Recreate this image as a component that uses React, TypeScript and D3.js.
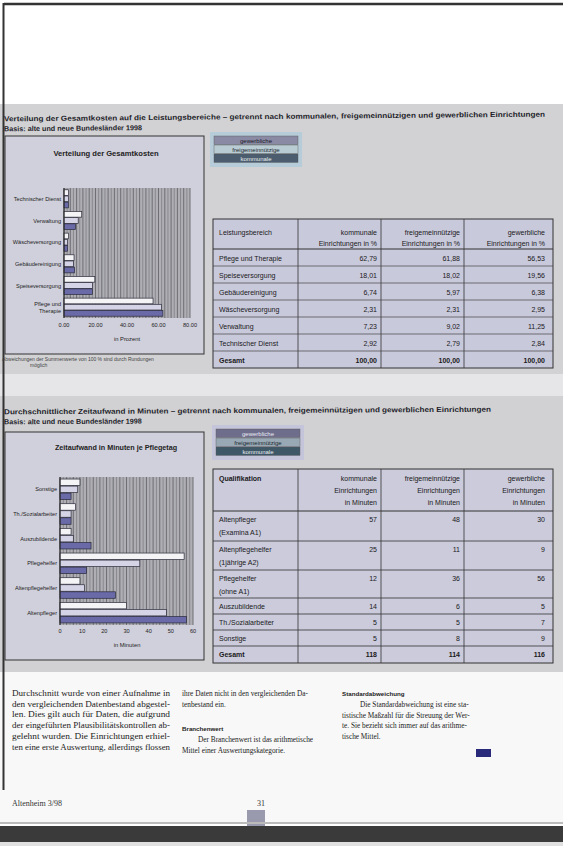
import React from "react";
import * as d3 from "d3";

// ---------- data ----------
const series = ["gewerbliche", "freigemeinnützige", "kommunale"];

const bereiche = ["Pflege und Therapie", "Speiseversorgung", "Gebäudereinigung", "Wäscheversorgung", "Verwaltung", "Technischer Dienst"];
const bereicheChart = ["Technischer Dienst", "Verwaltung", "Wäscheversorgung", "Gebäudereinigung", "Speiseversorgung", "Pflege und\nTherapie"];
const kommunal1 = [62.79, 18.01, 6.74, 2.31, 7.23, 2.92];
const freigem1 = [61.88, 18.02, 5.97, 2.31, 9.02, 2.79];
const gewerb1 = [56.53, 19.56, 6.38, 2.95, 11.25, 2.84];
const ticks1 = [0, 20, 40, 60, 80];

const quali = ["Altenpfleger\n(Examina A1)", "Altenpflegehelfer\n(1jährige A2)", "Pflegehelfer\n(ohne A1)", "Auszubildende", "Th./Sozialarbeiter", "Sonstige"];
const qualiChart = ["Sonstige", "Th./Sozialarbeiter", "Auszubildende", "Pflegehelfer", "Altenpflegehelfer", "Altenpfleger"];
const kommunal2 = [57, 25, 12, 14, 5, 5];
const freigem2 = [48, 11, 36, 6, 5, 8];
const gewerb2 = [30, 9, 56, 5, 7, 9];
const ticks2 = [0, 10, 20, 30, 40, 50, 60];

const title1 = "Verteilung der Gesamtkosten auf die Leistungsbereiche – getrennt nach kommunalen, freigemeinnützigen und gewerblichen Einrichtungen";
const title2 = "Durchschnittlicher Zeitaufwand in Minuten – getrennt nach kommunalen, freigemeinnützigen und gewerblichen Einrichtungen";
const basis = "Basis: alte und neue Bundesländer 1998";

const col1Text = [
  "Durchschnitt wurde von einer Aufnahme in",
  "den vergleichenden Datenbestand abgestel-",
  "len. Dies gilt auch für Daten, die aufgrund",
  "der eingeführten Plausibilitätskontrollen ab-",
  "gelehnt wurden. Die Einrichtungen erhiel-",
  "ten eine erste Auswertung, allerdings flossen",
];
const col2Text = ["ihre Daten nicht in den vergleichenden Da-", "tenbestand ein."];
const col2Body = ["Der Branchenwert ist das arithmetische", "Mittel einer Auswertungskategorie."];
const col3Body = [
  "Die Standardabweichung ist eine sta-",
  "tistische Maßzahl für die Streuung der Wer-",
  "te. Sie bezieht sich immer auf das arithme-",
  "tische Mittel.",
];

// ---------- style ----------
const SANS = "'Liberation Sans', Arial, sans-serif";
const SERIF = "'Liberation Serif', 'DejaVu Serif', serif";
const barFill: Record<string, string> = { gewerbliche: "#f4f4f6", freigemeinnützige: "#d4d4e6", kommunale: "#6a6aa8" };

const de = d3.formatLocale({ decimal: ",", thousands: ".", grouping: [3], currency: ["", " €"] });
const pct = de.format(".2f");
const intf = de.format("d");

type ChartProps = {
  cats: string[];
  values: Record<string, number[]>;
  xDomain: [number, number];
  xRange: [number, number];
  yRange: [number, number];
  ticks: number[];
  fmt: (n: number) => string;
  gridStep: number;
  labelX: number;
  tickY: number;
};

function BarChart(p: ChartProps) {
  const x = d3.scaleLinear().domain(p.xDomain).range(p.xRange);
  const y = d3.scaleBand().domain(p.cats).range(p.yRange).paddingInner(0.12).paddingOuter(0.06);
  const ys = d3.scaleBand().domain(series).range([0, y.bandwidth()]).padding(0.08);
  const grid = d3.range(p.xDomain[0], p.xDomain[1] + 0.001, p.gridStep);
  return (
    <g>
      <rect x={p.xRange[0]} y={p.yRange[0]} width={p.xRange[1] - p.xRange[0]} height={p.yRange[1] - p.yRange[0]} fill="#aeaeb4" />
      {grid.map((g, i) => (
        <line key={i} x1={x(g)} x2={x(g)} y1={p.yRange[0]} y2={p.yRange[1]} stroke={i % 2 ? "#84848a" : "#66666c"} strokeWidth={0.9} />
      ))}
      {p.cats.map((c, i) => (
        <g key={c}>
          {series.map((s) => (
            <rect
              key={s}
              x={x(0)}
              y={(y(c) as number) + (ys(s) as number)}
              width={x(p.values[s][i]) - x(0)}
              height={ys.bandwidth()}
              fill={barFill[s]}
              stroke="#2a2a3a"
              strokeWidth={0.7}
            />
          ))}
          {c.split("\n").map((ln, k, arr) => (
            <text
              key={k}
              x={p.labelX}
              y={(y(c) as number) + y.bandwidth() / 2 + 2 + (k - (arr.length - 1) / 2) * 7}
              textAnchor="end"
              fontSize={5.6}
              fontFamily={SANS}
              fill="#222"
            >
              {ln}
            </text>
          ))}
        </g>
      ))}
      <line x1={x(0)} x2={x(0)} y1={p.yRange[0]} y2={p.yRange[1]} stroke="#222" strokeWidth={1} />
      {p.ticks.map((t) => (
        <text key={t} x={x(t)} y={p.tickY} textAnchor="middle" fontSize={5.6} fontFamily={SANS} fill="#222">
          {p.fmt(t)}
        </text>
      ))}
    </g>
  );
}

function Legend({ x, y, fills, textFills, bg }: { x: number; y: number; fills: string[]; textFills: string[]; bg: string }) {
  return (
    <g>
      <rect x={x - 4} y={y - 4} width={92} height={35} fill={bg} />
      {series.map((s, i) => (
        <g key={s}>
          <rect x={x} y={y + i * 9} width={84} height={8.4} fill={fills[i]} stroke="#555" strokeWidth={0.4} />
          <text x={x + 42} y={y + i * 9 + 6.6} textAnchor="middle" fontSize={6} fontFamily={SANS} fill={textFills[i]}>
            {s}
          </text>
        </g>
      ))}
    </g>
  );
}

const colRight = [377, 460, 545];
const divX = [298, 381, 464];

function Table1() {
  const x0 = 213, x1 = 553, top = 219, headBottom = 249, rh = 17;
  const rows = bereiche.map((b, i) => ({ label: b, vals: [kommunal1[i], freigem1[i], gewerb1[i]] }));
  const totals = [d3.sum(kommunal1), d3.sum(freigem1), d3.sum(gewerb1)].map(() => 100);
  const bottom = headBottom + rh * (rows.length + 1);
  const heads = [["kommunale", "Einrichtungen in %"], ["freigemeinnützige", "Einrichtungen in %"], ["gewerbliche", "Einrichtungen in %"]];
  return (
    <g fontFamily={SANS} fontSize={7} fill="#1a1a1a">
      <rect x={x0} y={top} width={x1 - x0} height={bottom - top} fill="#c9c9dc" stroke="#333" strokeWidth={1} />
      {divX.map((d) => (
        <line key={d} x1={d} x2={d} y1={top} y2={bottom} stroke="#333" strokeWidth={0.8} />
      ))}
      <text x={219} y={235}>Leistungsbereich</text>
      {heads.map((h, j) =>
        h.map((ln, k) => (
          <text key={j + "-" + k} x={colRight[j]} y={235 + k * 11} textAnchor="end">
            {ln}
          </text>
        ))
      )}
      <line x1={x0} x2={x1} y1={headBottom} y2={headBottom} stroke="#333" strokeWidth={1} />
      {rows.map((r, i) => {
        const ty = headBottom + rh * i;
        return (
          <g key={r.label}>
            <line x1={x0} x2={x1} y1={ty + rh} y2={ty + rh} stroke="#444" strokeWidth={0.7} />
            <text x={219} y={ty + 11.5}>{r.label}</text>
            {r.vals.map((v, j) => (
              <text key={j} x={colRight[j]} y={ty + 11.5} textAnchor="end">
                {pct(v)}
              </text>
            ))}
          </g>
        );
      })}
      <g fontWeight="bold">
        <text x={219} y={headBottom + rh * rows.length + 11.5}>Gesamt</text>
        {totals.map((v, j) => (
          <text key={j} x={colRight[j]} y={headBottom + rh * rows.length + 11.5} textAnchor="end">
            {pct(v)}
          </text>
        ))}
      </g>
    </g>
  );
}

function Table2() {
  const x0 = 213, x1 = 553, top = 469, headBottom = 511;
  const rowTops = [511, 541, 570, 598, 614, 630, 646];
  const bottom = 663;
  const heads = [["kommunale", "Einrichtungen", "in Minuten"], ["freigemeinnützige", "Einrichtungen", "in Minuten"], ["gewerbliche", "Einrichtungen", "in Minuten"]];
  const totals = [d3.sum(kommunal2), d3.sum(freigem2), d3.sum(gewerb2)];
  return (
    <g fontFamily={SANS} fontSize={7} fill="#1a1a1a">
      <rect x={x0} y={top} width={x1 - x0} height={bottom - top} fill="#cbcbdc" stroke="#333" strokeWidth={1} />
      {divX.map((d) => (
        <line key={d} x1={d} x2={d} y1={top} y2={bottom} stroke="#333" strokeWidth={0.8} />
      ))}
      <text x={219} y={481} fontWeight="bold">Qualifikation</text>
      {heads.map((h, j) =>
        h.map((ln, k) => (
          <text key={j + "-" + k} x={colRight[j]} y={481 + k * 12} textAnchor="end">
            {ln}
          </text>
        ))
      )}
      <line x1={x0} x2={x1} y1={headBottom} y2={headBottom} stroke="#333" strokeWidth={1} />
      {quali.map((q, i) => {
        const ty = rowTops[i];
        const lines = q.split("\n");
        return (
          <g key={q}>
            <line x1={x0} x2={x1} y1={rowTops[i + 1]} y2={rowTops[i + 1]} stroke="#333" strokeWidth={0.8} />
            {lines.map((ln, k) => (
              <text key={k} x={219} y={ty + 11 + k * 13}>{ln}</text>
            ))}
            {[kommunal2[i], freigem2[i], gewerb2[i]].map((v, j) => (
              <text key={j} x={colRight[j]} y={ty + 11} textAnchor="end">
                {intf(v)}
              </text>
            ))}
          </g>
        );
      })}
      <g fontWeight="bold">
        <text x={219} y={rowTops[6] + 11}>Gesamt</text>
        {totals.map((v, j) => (
          <text key={j} x={colRight[j]} y={rowTops[6] + 11} textAnchor="end">
            {intf(v)}
          </text>
        ))}
      </g>
    </g>
  );
}

function toValues(k: number[], f: number[], g: number[]) {
  const rev = (a: number[]) => a.slice().reverse();
  return { kommunale: rev(k), freigemeinnützige: rev(f), gewerbliche: rev(g) };
}

export default function App() {
  return (
    <svg width={563} height={846} style={{ position: "absolute", left: 0, top: 0, background: "#fff" }}>
      {/* page edges */}
      <rect x={0} y={0} width={563} height={846} fill="#ffffff" />
      <rect x={0} y={104} width={563} height={270} fill="#d2d2d4" />
      <rect x={0} y={374} width={563} height={22} fill="#e6e6e8" />
      <rect x={0} y={396} width={563} height={276} fill="#d1d1d3" />
      <rect x={0} y={672} width={563} height={150} fill="#f8f8f8" />
      <line x1={4} x2={563} y1={4} y2={4} stroke="#333" strokeWidth={2.5} />
      <line x1={3.5} x2={3.5} y1={3} y2={790} stroke="#333" strokeWidth={2} />

      {/* section 1 title */}
      <g transform="rotate(-0.5 270 118)" fontFamily={SANS} fontWeight="bold" fill="#1e1e2a">
        <text x={4} y={119} fontSize={7.2} textLength={541} lengthAdjust="spacingAndGlyphs">{title1}</text>
        <text x={4} y={129} fontSize={7.2}>{basis}</text>
      </g>

      {/* chart 1 box */}
      <rect x={5} y={136} width={199} height={218} fill="#d0d0dc" stroke="#333" strokeWidth={1} />
      <text x={106} y={156} textAnchor="middle" fontSize={7.6} fontWeight="bold" fontFamily={SANS} fill="#222">
        Verteilung der Gesamtkosten
      </text>
      <BarChart
        cats={bereicheChart}
        values={toValues(kommunal1, freigem1, gewerb1)}
        xDomain={[0, 80]}
        xRange={[64, 190]}
        yRange={[188, 318]}
        ticks={ticks1}
        fmt={d3.format(".2f")}
        gridStep={2}
        labelX={61}
        tickY={327}
      />
      <text x={127} y={341} textAnchor="middle" fontSize={5.8} fontFamily={SANS} fill="#222">in Prozent</text>
      <g fontFamily={SANS} fontSize={5} fill="#444">
        <text x={2} y={361}>Abweichungen der Summenwerte von 100 % sind durch Rundungen</text>
        <text x={30} y={367}>möglich</text>
      </g>

      <Legend x={214} y={136} fills={["#8a8aa4", "#b9cbd3", "#4b5d6e"]} textFills={["#1a1a2a", "#1a2a30", "#e8eef2"]} bg="#b6ccd8" />
      <Table1 />

      {/* section 2 title */}
      <g fontFamily={SANS} fontWeight="bold" fill="#1e1e2a" transform="rotate(-0.3 250 412)">
        <text x={4} y={413} fontSize={7.2} textLength={487} lengthAdjust="spacingAndGlyphs">{title2}</text>
        <text x={4} y={423} fontSize={7.2}>{basis}</text>
      </g>

      <rect x={5} y={432} width={199} height={228} fill="#d0d0dc" stroke="#333" strokeWidth={1} />
      <text x={116} y={450} textAnchor="middle" fontSize={7.2} fontWeight="bold" fontFamily={SANS} fill="#222">
        Zeitaufwand in Minuten je Pflegetag
      </text>
      <BarChart
        cats={qualiChart}
        values={toValues(kommunal2, freigem2, gewerb2)}
        xDomain={[0, 60]}
        xRange={[60, 193]}
        yRange={[477, 625]}
        ticks={ticks2}
        fmt={d3.format("d")}
        gridStep={1.5}
        labelX={57}
        tickY={633}
      />
      <text x={127} y={647} textAnchor="middle" fontSize={5.8} fontFamily={SANS} fill="#222">in Minuten</text>

      <Legend x={216} y={429} fills={["#6e6e8c", "#98a8b4", "#3f5868"]} textFills={["#e8e8f0", "#1a2a30", "#e8eef2"]} bg="#c4c4da" />
      <Table2 />

      {/* body text */}
      <g fontFamily={SERIF} fontSize={7.3} fill="#222">
        {col1Text.map((t, i) => (
          <text key={i} x={12} y={696 + i * 10.7} textLength={158} lengthAdjust="spacingAndGlyphs">{t}</text>
        ))}
        {col2Text.map((t, i) => (
          <text key={i} x={182} y={696 + i * 10.7}>{t}</text>
        ))}
        <text x={182} y={731} fontFamily={SANS} fontWeight="bold" fontSize={6.2}>Branchenwert</text>
        {col2Body.map((t, i) => (
          <text key={i} x={i === 0 ? 198 : 182} y={742 + i * 10.7}>{t}</text>
        ))}
        <text x={342} y={696} fontFamily={SANS} fontWeight="bold" fontSize={6.2}>Standardabweichung</text>
        {col3Body.map((t, i) => (
          <text key={i} x={i === 0 ? 360 : 342} y={707 + i * 10.7}>{t}</text>
        ))}
      </g>
      <rect x={476} y={749} width={15} height={8} fill="#2a2a7a" />

      {/* footer */}
      <text x={12} y={806} fontFamily={SERIF} fontSize={8} fill="#333">Altenheim 3/98</text>
      <text x={257} y={806} fontFamily={SERIF} fontSize={8} fill="#333">31</text>
      <rect x={247} y={810} width={18} height={20} fill="#9a9aae" />
      <rect x={0} y={822} width={563} height={2} fill="#bbb" />
      <rect x={0} y={826} width={563} height={16} fill="#3a3a3a" />
      <rect x={0} y={842} width={563} height={4} fill="#e0e0e0" />
    </svg>
  );
}
